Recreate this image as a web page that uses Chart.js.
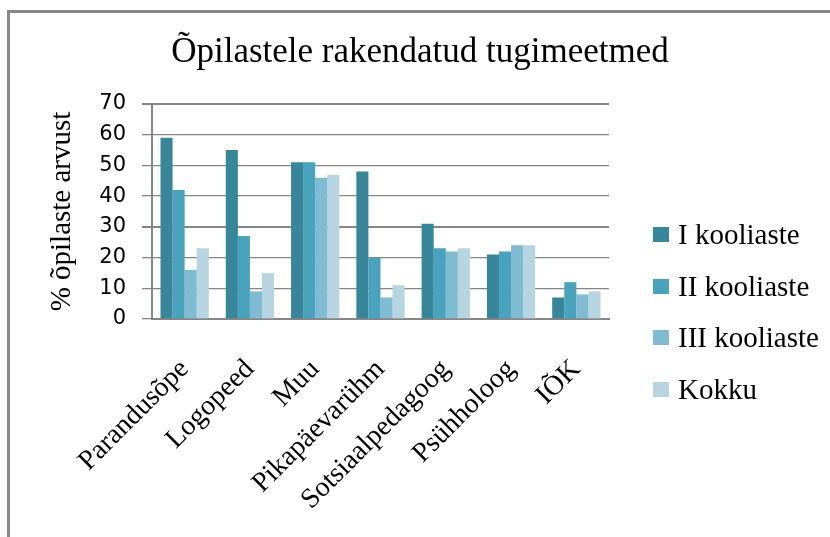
<!DOCTYPE html>
<html>
<head>
<meta charset="utf-8">
<script src="https://cdn.jsdelivr.net/npm/chart.js@4/dist/chart.umd.min.js"></script>
<style>
  html, body { margin: 0; padding: 0; background: #fff; }
  #wrap { position: relative; width: 830px; height: 537px; overflow: hidden; }
  #legend { position: absolute; left: 653px; top: 227px; font-family: "Liberation Serif", serif; font-size: 29px; color: #000; }
  .item { position: absolute; left: 0; display: flex; align-items: center; white-space: nowrap; height: 15px; }
  .box { width: 16px; height: 15px; margin-right: 9px; flex: none; }
</style>
</head>
<body>
<div id="wrap">
  <canvas id="chart" width="830" height="537"></canvas>
  <div id="legend"></div>
</div>
<script>
const categories = ["Parandusõpe", "Logopeed", "Muu", "Pikapäevarühm", "Sotsiaalpedagoog", "Psühholoog", "IÕK"];
const seriesNames = ["I kooliaste", "II kooliaste", "III kooliaste", "Kokku"];
const stageOne = [59, 55, 51, 48, 31, 21, 7];
const stageTwo = [42, 27, 51, 20, 23, 22, 12];
const stageThree = [16, 9, 46, 7, 22, 24, 8];
const total = [23, 15, 47, 11, 23, 24, 9];
const seriesColors = ["#37869a", "#4aa3bc", "#7fbbd1", "#b6d5e0"];
const yMin = 0, yMax = 70, yStep = 10;

const gridGray = "#868686";
const serif = "'Liberation Serif', serif";

// frame around the chart (left and top edges are visible)
const framePlugin = {
    id: "frame",
    beforeDraw(chart) {
        const c = chart.ctx;
        c.save();
        c.strokeStyle = "#878787";
        c.lineWidth = 3;
        c.beginPath();
        c.moveTo(8.5, 537);
        c.lineTo(8.5, 11.5);
        c.lineTo(830, 11.5);
        c.stroke();
        c.restore();
    }
};

const seriesData = [stageOne, stageTwo, stageThree, total];

let chart = new Chart(document.getElementById("chart").getContext("2d"), {
    type: "bar",
    data: {
        labels: categories,
        datasets: seriesNames.map((name, i) => ({
            label: name,
            data: seriesData[i],
            backgroundColor: seriesColors[i],
            borderWidth: 0,
            barPercentage: 1,
            categoryPercentage: 0.74
        }))
    },
    options: {
        responsive: false,
        animation: false,
        devicePixelRatio: 1,
        layout: { padding: { left: 10, right: 0, top: 0, bottom: 0 } },
        plugins: {
            legend: { display: false },
            tooltip: { enabled: false },
            title: {
                display: true,
                text: "Õpilastele rakendatud tugimeetmed",
                color: "#000",
                font: { family: serif, size: 35, weight: "normal" },
                padding: { top: 32, bottom: 30 }
            }
        },
        scales: {
            x: {
                grid: { display: false },
                border: { display: true, color: gridGray, width: 2 },
                ticks: {
                    color: "#000",
                    font: { family: serif, size: 28 },
                    minRotation: 45,
                    maxRotation: 45,
                    padding: 26
                },
                afterFit: s => { s.height = 218; }
            },
            y: {
                min: yMin,
                max: yMax,
                ticks: {
                    stepSize: yStep,
                    color: "#000",
                    font: { family: "'DejaVu Sans', sans-serif", size: 21 },
                    padding: 16
                },
                grid: {
                    color: gridGray,
                    lineWidth: ctx => (ctx.tick && (ctx.tick.value === 30 || ctx.tick.value === 70)) ? 2 : 1.3,
                    tickLength: 10
                },
                border: { color: gridGray, width: 2 },
                title: {
                    display: true,
                    text: "% õpilaste arvust",
                    color: "#000",
                    font: { family: serif, size: 29 },
                    padding: { top: 35, bottom: 0 }
                },
                afterFit: s => { s.width = 142; }
            },
            // empty right-hand scale that leaves room for the legend
            legendSpace: {
                position: "right",
                grid: { display: false },
                border: { display: false },
                ticks: { display: false },
                afterFit: s => { s.width = 221; }
            }
        }
    },
    plugins: [framePlugin]
});

// legend built from the datasets
const legendEl = document.getElementById("legend");
chart.data.datasets.forEach((ds, i) => {
    const item = document.createElement("div");
    item.className = "item";
    item.style.top = (i * 51.7) + "px";
    const box = document.createElement("span");
    box.className = "box";
    box.style.background = ds.backgroundColor;
    const txt = document.createElement("span");
    txt.textContent = ds.label;
    item.appendChild(box);
    item.appendChild(txt);
    legendEl.appendChild(item);
});
</script>
</body>
</html>
